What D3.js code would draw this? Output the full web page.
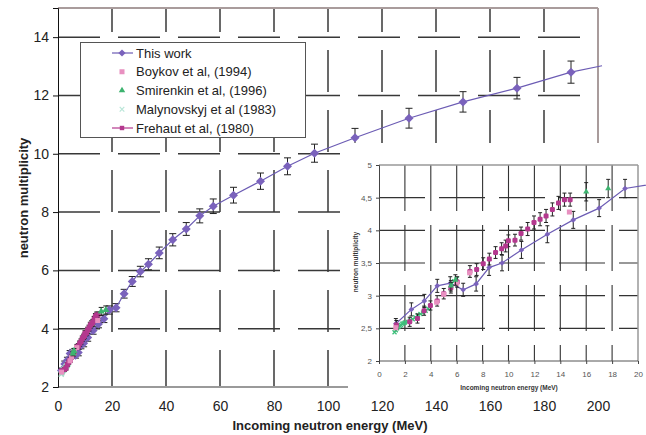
<!DOCTYPE html>
<html><head><meta charset="utf-8">
<script src="https://cdn.jsdelivr.net/npm/d3@7/dist/d3.min.js"></script>
<style>body{margin:0;background:#fff}svg{display:block}text{font-family:"Liberation Sans",Arial,sans-serif}</style>
</head><body><svg id="c" width="646" height="435"></svg>
<script>
// ---- data ----
const thisWorkE = [1.3,2.5,3.5,4.5,5.5,6.5,7.5,8.5,9.5,11,13,15,17,19,21.5,24.5,27.5,30.5,33.5,37.5,42.5,47.5,52.5,57.5,65,75,85,95,110,130,150,170,190];
const thisWorkV = [2.57,2.79,2.92,3.15,3.19,3.09,3.18,3.43,3.5,3.7,3.94,4.16,4.34,4.64,4.72,5.2,5.62,5.96,6.21,6.6,7.05,7.42,7.87,8.2,8.58,9.06,9.57,10.02,10.55,11.22,11.78,12.25,12.8];
const thisWorkErr = [0.08,0.1,0.1,0.1,0.1,0.1,0.11,0.12,0.12,0.13,0.13,0.13,0.13,0.14,0.14,0.15,0.17,0.18,0.19,0.2,0.21,0.22,0.24,0.25,0.27,0.28,0.29,0.31,0.32,0.34,0.35,0.37,0.38];
const thisWorkTailE = [201.5];
const thisWorkTailV = [13.02];

const frehautE = [1.34,2.37,2.97,3.48,3.97,4.49,5.0,5.55,6.04,7.02,7.54,8.05,8.52,9.0,9.47,9.78,9.99,10.5,10.97,11.48,11.97,12.44,12.9,13.39,13.86,14.32,14.76];
const frehautV = [2.55,2.6,2.65,2.77,2.85,2.92,3.03,3.12,3.21,3.37,3.4,3.49,3.56,3.66,3.72,3.76,3.84,3.85,3.95,4.02,4.12,4.17,4.22,4.32,4.42,4.47,4.47];
const frehautErr = [0.07,0.07,0.07,0.07,0.07,0.08,0.08,0.08,0.08,0.09,0.09,0.09,0.09,0.09,0.09,0.09,0.09,0.09,0.1,0.1,0.1,0.1,0.1,0.1,0.1,0.1,0.1];

const boykovE = [1.3,4.45,5.0,6.0,7.0,14.7];
const boykovV = [2.51,2.9,3.02,3.19,3.35,4.28];

const smirenkinE = [5.55,5.9,16.0,17.7];
const smirenkinV = [3.15,3.24,4.59,4.64];
const smirenkinErr = [0.08,0.08,0.14,0.14];

const malynE = [1.2,1.3,1.4,1.5,1.6,1.7,1.8,1.9,2.0,2.2,2.4,2.6,2.8,3.0,3.2,3.4,3.6,3.8,5.6,5.8,6.0];
const malynV = [2.44,2.47,2.5,2.52,2.54,2.55,2.57,2.58,2.59,2.6,2.62,2.64,2.67,2.7,2.72,2.74,2.77,2.8,3.18,3.22,3.26];

const mainXTicks = [0,20,40,60,80,100,120,140,160,180,200];
const mainYTicks = [2,4,6,8,10,12,14];
const insetXTicks = [0,2,4,6,8,10,12,14,16,18,20];
const insetYTicks = [2,2.5,3,3.5,4,4.5,5];

const legendLabels = ["This work","Boykov et al, (1994)","Smirenkin et al, (1996)","Malynovskyj et al (1983)","Frehaut et al, (1980)"];

// ---- colors ----
const cWork = "#6c5cb4", cWorkFill = "#7a62bc", cFre = "#b4388e", cBoy = "#e890c0", cSmi = "#3db36f", cMal = "#3cbf7a", cMalLeg = "#b9e6d8";

const zip = (a,b,c) => a.map((d,i)=>({x:d,y:b[i],e:c?c[i]:0}));
const work = zip(thisWorkE,thisWorkV,thisWorkErr);
const workLine = work.concat(zip(thisWorkTailE,thisWorkTailV));
const fre = zip(frehautE,frehautV,frehautErr);
const boy = zip(boykovE,boykovV);
const smi = zip(smirenkinE,smirenkinV,smirenkinErr);
const mal = zip(malynE,malynV);

const svg = d3.select("#c");
const diamond = r => `M0,${-r}L${r},0L0,${r}L${-r},0Z`;
const xmark = r => `M${-r},${-r}L${r},${r}M${-r},${r}L${r},${-r}`;

// ---- main chart ----
const x = d3.scaleLinear().domain([0,200]).range([58,598]);
const y = d3.scaleLinear().domain([2,15]).range([387,8]);

function drawChart(g, x, y, o) {
  const gx = o.xTicks.filter(t => t>x.domain()[0] && t<x.domain()[1]);
  const gy = o.yTicks.filter(t => t>y.domain()[0] && t<y.domain()[1]);
  g.append("g").selectAll("line").data(gy).join("line")
    .attr("x1", x.range()[0]).attr("x2", x.range()[1]).attr("y1", d=>y(d)).attr("y2", d=>y(d))
    .attr("stroke", o.gridCol).attr("stroke-width", o.gridW).attr("stroke-dasharray", o.dashH);
  g.append("g").selectAll("line").data(gx).join("line")
    .attr("x1", d=>x(d)).attr("x2", d=>x(d)).attr("y1", y.range()[1]).attr("y2", y.range()[0])
    .attr("stroke", o.gridCol).attr("stroke-width", o.gridW).attr("stroke-dasharray", o.dashV).attr("stroke-dashoffset", o.dashVOff);
  g.append("line").attr("x1", x.range()[0]).attr("x2", x.range()[1]).attr("y1", y.range()[1]).attr("y2", y.range()[1]).attr("stroke", o.frameCol).attr("stroke-width", o.frameW);
  g.append("line").attr("x1", x.range()[1]).attr("x2", x.range()[1]).attr("y1", y.range()[1]).attr("y2", y.range()[0]).attr("stroke", o.frameCol).attr("stroke-width", o.frameW);
  g.append("line").attr("x1", x.range()[0]).attr("x2", x.range()[1]).attr("y1", y.range()[0]).attr("y2", y.range()[0]).attr("stroke", o.baseCol).attr("stroke-width", o.baseW);
  const ya = g.append("g").attr("transform", `translate(${x.range()[0]},0)`)
    .call(d3.axisLeft(y).tickValues(o.yTicks).tickSize(o.yTickSize).tickPadding(o.yPad).tickFormat(o.fmt));
  ya.select(".domain").attr("stroke", o.axisCol);
  ya.selectAll(".tick line").attr("stroke", o.axisCol);
  ya.selectAll("text").attr("font-size", o.fs).attr("fill", o.txtCol).attr("font-family", null);
  const xa = g.append("g").attr("transform", `translate(0,${y.range()[0]})`)
    .call(d3.axisBottom(x).tickValues(o.xTicks).tickSize(o.xTickSize).tickPadding(o.xPad).tickFormat(o.fmt));
  xa.select(".domain").remove();
  xa.selectAll(".tick line").attr("stroke", o.axisCol);
  xa.selectAll("text").attr("font-size", o.fs).attr("fill", o.txtCol).attr("font-family", null);
  g.append("text").attr("x", o.xtX).attr("y", o.xtY).attr("text-anchor","middle").attr("font-weight","bold")
    .attr("font-size", o.tfs).attr("fill", o.titleCol).text("Incoming neutron energy (MeV)");
  g.append("text").attr("transform", `translate(${o.ytX},${o.ytY}) rotate(-90)`).attr("text-anchor","middle").attr("font-weight","bold")
    .attr("font-size", o.tfs).attr("fill", o.titleCol).text("neutron multiplicity");
}

function errBars(g, data, x, y, cap, col, w) {
  const s = g.append("g").attr("stroke", col).attr("stroke-width", w).attr("fill","none");
  s.selectAll("path").data(data.filter(d=>d.e>0)).join("path")
    .attr("d", d => `M${x(d.x)},${y(d.y-d.e)}V${y(d.y+d.e)}M${x(d.x)-cap},${y(d.y-d.e)}h${2*cap}M${x(d.x)-cap},${y(d.y+d.e)}h${2*cap}`);
}

function drawData(g, x, y, o) {
  const line = d3.line().x(d=>x(d.x)).y(d=>y(d.y));
  errBars(g, o.work, x, y, o.cap, "#222", 1);
  g.append("path").datum(o.workLine).attr("d", line).attr("fill","none").attr("stroke", cWork).attr("stroke-width", 1.2);
  g.append("g").selectAll("path").data(o.work).join("path")
    .attr("transform", d=>`translate(${x(d.x)},${y(d.y)})`).attr("d", diamond(o.rWork)).attr("fill", cWorkFill);
  g.append("g").selectAll("path").data(mal).join("path")
    .attr("transform", d=>`translate(${x(d.x)},${y(d.y)})`).attr("d", xmark(o.rMal)).attr("stroke", o.malCol).attr("stroke-width", 1.3).attr("fill","none");
  errBars(g, fre, x, y, o.cap2, "#222", 1);
  if (o.freLine) g.append("path").datum(fre).attr("d", line).attr("fill","none").attr("stroke", cFre).attr("stroke-width", 2);
  g.append("g").selectAll("rect").data(fre).join("rect")
    .attr("x", d=>x(d.x)-o.rFre).attr("y", d=>y(d.y)-o.rFre).attr("width", 2*o.rFre).attr("height", 2*o.rFre)
    .attr("rx", o.rFre*0.5).attr("fill", cFre);
  g.append("g").selectAll("rect").data(boy).join("rect")
    .attr("x", d=>x(d.x)-o.rBoy).attr("y", d=>y(d.y)-o.rBoy).attr("width", 2*o.rBoy).attr("height", 2*o.rBoy).attr("fill", cBoy);
  errBars(g, smi, x, y, o.cap2, "#222", 1);
  g.append("g").selectAll("path").data(smi).join("path")
    .attr("transform", d=>`translate(${x(d.x)},${y(d.y)})`).attr("d", d3.symbol(d3.symbolTriangle, o.smiSize)).attr("fill", cSmi);
}

const main = svg.append("g");
drawChart(main, x, y, {
  xTicks: mainXTicks, yTicks: mainYTicks, gridCol: "#383838", gridW: 1.5, dashH: "42,18", dashV: "42,18", dashVOff: 18,
  frameCol: "#a99c9c", frameW: 2, baseCol: "#9a9a9a", baseW: 2, axisCol: "#111", yTickSize: 5, yPad: 4, xTickSize: 0, xPad: 14,
  fmt: d3.format("d"), fs: 14, txtCol: "#222", tfs: 13, titleCol: "#222", xtX: 330, xtY: 430, ytX: 28, ytY: 198
});
drawData(main, x, y, {work, workLine, cap: 3.5, cap2: 2.5, rWork: 4.5, rMal: 2.5, malCol: "#a8dcc8", rFre: 2.6, freLine: true, rBoy: 2.5, smiSize: 22});

// legend
const lg = svg.append("g");
lg.append("rect").attr("x", 80.5).attr("y", 42.5).attr("width", 225).attr("height", 95).attr("fill","#fff").attr("stroke","#555").attr("stroke-width",1);
const ly = d3.scalePoint().domain(legendLabels).range([53,128]);
legendLabels.forEach((lab,i) => {
  const yy = ly(lab), cx = 122;
  const it = lg.append("g");
  if (i===0) {
    it.append("line").attr("x1",112).attr("x2",133).attr("y1",yy).attr("y2",yy).attr("stroke",cWork).attr("stroke-width",1.2);
    it.append("path").attr("transform",`translate(${cx},${yy})`).attr("d",diamond(3.6)).attr("fill",cWorkFill);
  } else if (i===1) {
    it.append("rect").attr("x",cx-2.5).attr("y",yy-2.5).attr("width",5).attr("height",5).attr("fill",cBoy);
  } else if (i===2) {
    it.append("path").attr("transform",`translate(${cx},${yy})`).attr("d",d3.symbol(d3.symbolTriangle,18)).attr("fill",cSmi);
  } else if (i===3) {
    it.append("path").attr("transform",`translate(${cx},${yy})`).attr("d",xmark(2.3)).attr("stroke",cMalLeg).attr("stroke-width",1.2);
  } else {
    it.append("line").attr("x1",112).attr("x2",133).attr("y1",yy).attr("y2",yy).attr("stroke",cFre).attr("stroke-width",1.2);
    it.append("rect").attr("x",cx-2.2).attr("y",yy-2.2).attr("width",4.4).attr("height",4.4).attr("fill",cFre);
  }
  it.append("text").attr("x",136).attr("y",yy).attr("dy","0.36em").attr("font-size",13).attr("fill","#222").text(lab);
});

// ---- inset ----
const ins = svg.append("g");
ins.append("rect").attr("x",348).attr("y",143).attr("width",298).attr("height",253).attr("fill","#fff");
const xi = d3.scaleLinear().domain([0,20]).range([379,638]);
const yi = d3.scaleLinear().domain([2,5]).range([361,165]);
drawChart(ins, xi, yi, {
  xTicks: insetXTicks, yTicks: insetYTicks, gridCol: "#333", gridW: 1.1, dashH: "46,14", dashV: "46,14", dashVOff: 0,
  frameCol: "#999", frameW: 1.5, baseCol: "#555", baseW: 1, axisCol: "#444", yTickSize: 3, yPad: 4, xTickSize: 3, xPad: 7,
  fmt: d => String(d).replace(".", ","), fs: 8, txtCol: "#555", tfs: 6.5, titleCol: "#333", xtX: 509, xtY: 390, ytX: 358, ytY: 262
});
drawData(ins, xi, yi, {work, workLine: work, cap: 2, cap2: 2, rWork: 2.8, rMal: 2, malCol: cMal, rFre: 2.5, freLine: false, rBoy: 2.5, smiSize: 16});
</script></body></html>
